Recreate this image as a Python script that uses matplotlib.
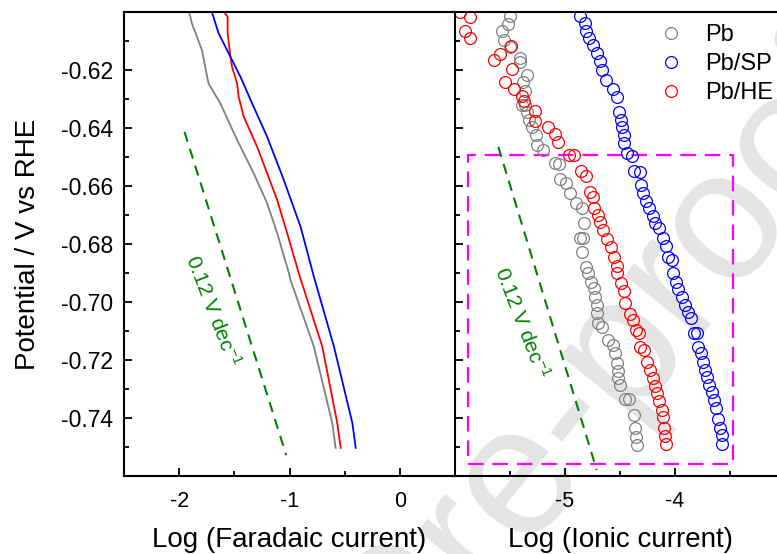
import matplotlib
matplotlib.use("Agg")
import matplotlib.pyplot as plt
from matplotlib.patches import Rectangle

plt.rcParams['font.family'] = ['Liberation Sans', 'DejaVu Sans']
plt.rcParams['mathtext.fontset'] = 'custom'
plt.rcParams['mathtext.rm'] = 'Liberation Sans'
plt.rcParams['mathtext.it'] = 'Liberation Sans:italic'

# Tafel plots, faradaic current (left)
far_pb_x = [-1.909, -1.885, -1.794, -1.764, -1.734, -1.627, -1.475, -1.325, -1.203,
            -1.112, -1.006, -0.991, -0.779, -0.612, -0.582]
far_pb_y = [-0.6001, -0.6039, -0.6131, -0.6189, -0.6246, -0.6315, -0.6441, -0.6556, -0.6659,
            -0.6762, -0.6900, -0.6924, -0.7154, -0.7418, -0.7503]
far_sp_x = [-1.703, -1.643, -1.536, -1.445, -1.325, -1.203, -1.052, -0.900, -0.779,
            -0.597, -0.430, -0.400]
far_sp_y = [-0.6001, -0.6073, -0.6154, -0.6223, -0.6327, -0.6430, -0.6579, -0.6740, -0.6913,
            -0.7154, -0.7418, -0.7503]
far_he_x = [-1.591, -1.561, -1.561, -1.536, -1.521, -1.475, -1.461, -1.415, -1.294,
            -1.203, -1.112, -1.021, -0.906, -0.703, -0.567, -0.536]
far_he_y = [-0.6001, -0.6016, -0.6073, -0.6154, -0.6189, -0.6246, -0.6292, -0.6361, -0.6464,
            -0.6556, -0.6648, -0.6763, -0.6913, -0.7154, -0.7418, -0.7503]

# ionic current (right)
ion_pb_x = [-5.500, -5.518, -5.573, -5.559, -5.500, -5.409, -5.405, -5.345, -5.382, -5.368,
            -5.394, -5.364, -5.345, -5.327, -5.300, -5.268, -5.255, -5.197, -5.091, -5.055,
            -5.045, -4.988, -4.955, -4.900, -4.848, -4.827, -4.868, -4.836, -4.841, -4.806,
            -4.788, -4.766, -4.736, -4.727, -4.712, -4.706, -4.697, -4.666, -4.606, -4.561,
            -4.541, -4.527, -4.520, -4.514, -4.500, -4.459, -4.415, -4.373, -4.368, -4.355,
            -4.345]
ion_pb_y = [-0.6014, -0.6041, -0.6067, -0.6098, -0.6119, -0.6159, -0.6171, -0.6217, -0.6243, -0.6274,
            -0.6321, -0.6321, -0.6345, -0.6374, -0.6397, -0.6423, -0.6459, -0.6476, -0.6522, -0.6524,
            -0.6576, -0.6591, -0.6625, -0.6660, -0.6677, -0.6729, -0.6779, -0.6780, -0.6829, -0.6878,
            -0.6901, -0.6930, -0.6953, -0.6982, -0.7010, -0.7037, -0.7073, -0.7085, -0.7131, -0.7148,
            -0.7177, -0.7209, -0.7238, -0.7262, -0.7286, -0.7334, -0.7334, -0.7388, -0.7433, -0.7464,
            -0.7493]
ion_sp_x = [-4.864, -4.818, -4.809, -4.782, -4.743, -4.712, -4.682, -4.666, -4.627, -4.566,
            -4.530, -4.506, -4.494, -4.485, -4.464, -4.464, -4.434, -4.394, -4.373, -4.318,
            -4.312, -4.288, -4.264, -4.234, -4.203, -4.179, -4.143, -4.106, -4.082, -4.061,
            -4.030, -4.015, -3.991, -3.970, -3.939, -3.909, -3.879, -3.857, -3.827, -3.797,
            -3.788, -3.766, -3.748, -3.727, -3.706, -3.688, -3.666, -3.645, -3.627, -3.606,
            -3.591, -3.575, -3.575]
ion_sp_y = [-0.6015, -0.6038, -0.6066, -0.6090, -0.6113, -0.6141, -0.6170, -0.6199, -0.6233, -0.6266,
            -0.6294, -0.6345, -0.6371, -0.6398, -0.6425, -0.6452, -0.6486, -0.6498, -0.6547, -0.6552,
            -0.6596, -0.6624, -0.6651, -0.6676, -0.6702, -0.6728, -0.6745, -0.6780, -0.6807, -0.6846,
            -0.6855, -0.6899, -0.6930, -0.6956, -0.6982, -0.7010, -0.7033, -0.7056, -0.7108, -0.7108,
            -0.7154, -0.7177, -0.7206, -0.7234, -0.7260, -0.7286, -0.7309, -0.7338, -0.7367, -0.7404,
            -0.7436, -0.7459, -0.7490]
ion_he_x = [-5.955, -5.864, -5.909, -5.864, -5.491, -5.595, -5.647, -5.482, -5.541, -5.462,
            -5.394, -5.375, -5.275, -5.273, -5.159, -5.094, -5.061, -4.966, -4.916, -4.856,
            -4.806, -4.773, -4.750, -4.732, -4.700, -4.682, -4.652, -4.614, -4.582, -4.553,
            -4.530, -4.527, -4.491, -4.466, -4.455, -4.409, -4.382, -4.355, -4.329, -4.315,
            -4.282, -4.257, -4.225, -4.203, -4.182, -4.166, -4.148, -4.121, -4.106, -4.100,
            -4.091, -4.082]
ion_he_y = [-0.5999, -0.6018, -0.6067, -0.6090, -0.6117, -0.6144, -0.6166, -0.6195, -0.6241, -0.6267,
            -0.6290, -0.6306, -0.6343, -0.6375, -0.6395, -0.6421, -0.6448, -0.6493, -0.6494, -0.6548,
            -0.6567, -0.6621, -0.6638, -0.6677, -0.6700, -0.6723, -0.6753, -0.6782, -0.6810, -0.6844,
            -0.6876, -0.6901, -0.6933, -0.6962, -0.7002, -0.7043, -0.7062, -0.7097, -0.7108, -0.7155,
            -0.7167, -0.7206, -0.7234, -0.7261, -0.7290, -0.7315, -0.7341, -0.7372, -0.7398, -0.7433,
            -0.7461, -0.7490]

# 0.12 V/dec reference slopes
ref_left_x = [-1.952, -1.030]
ref_left_y = [-0.6413, -0.7528]
ref_right_x = [-5.606, -4.712]
ref_right_y = [-0.6465, -0.7579]
slope_label = r'0.12 V dec$^{-1}$'

# highlighted region on the ionic plot
box_x = (-5.88, -3.473)
box_y = (-0.756, -0.6493)

labels = ['Pb', 'Pb/SP', 'Pb/HE']
colors = ['#808080', '#0000ff', '#ff0000']

fig = plt.figure(figsize=(7.77, 5.54), dpi=100)
axl = fig.add_axes([0.1596, 0.1408, 0.4260, 0.8375])
axr = fig.add_axes([0.5856, 0.1408, 0.4247, 0.8375])

fig.text(0.525, -0.125, 'Journal Pre-proof', rotation=51, fontsize=133,
         color='#e4e4e4', ha='center', va='center', zorder=-5)

for ax in (axl, axr):
    ax.set_facecolor('none')
    ax.set_ylim(-0.76, -0.60)
    for s in ax.spines.values():
        s.set_linewidth(1.5)
    ax.tick_params(which='both', direction='in', width=1.3,
                   top=False, right=False)
    ax.tick_params(which='major', length=6)
    ax.tick_params(which='minor', length=3.5)
    ax.tick_params(axis='x', labelsize=15.5, pad=11)
    ax.tick_params(axis='y', labelsize=16.5, pad=8)
    ax.set_yticks([-0.74, -0.72, -0.70, -0.68, -0.66, -0.64, -0.62])
    ax.set_yticks([-0.75, -0.73, -0.71, -0.69, -0.67, -0.65, -0.63, -0.61], minor=True)

axl.spines['right'].set_visible(False)
axl.set_xlim(-2.5, 0.5)
axl.set_xticks([-2, -1, 0])
axl.set_xticks([-1.5, -0.5], minor=True)
axl.set_yticklabels(['-0.74', '-0.72', '-0.70', '-0.68', '-0.66', '-0.64', '-0.62'])
axl.set_xticklabels(['-2', '-1', '0'])

axl.plot(far_pb_x, far_pb_y, color=colors[0], lw=1.3)
axl.plot(far_he_x, far_he_y, color=colors[2], lw=1.3)
axl.plot(far_sp_x, far_sp_y, color=colors[1], lw=1.3)
axl.plot(ref_left_x, ref_left_y, color='#008000', lw=1.5, ls=(0, (5, 3.5)))
axl.text(-1.70, -0.703, slope_label, color='#008000', fontsize=15,
         rotation=-69, ha='center', va='center')
axl.set_xlabel('Log (Faradaic current)', fontsize=20, labelpad=10.5)
axl.set_ylabel('Potential / V vs RHE', fontsize=20, labelpad=14)

axr.set_xlim(-6, -3)
axr.set_xticks([-5, -4])
axr.set_xticks([-5.5, -4.5, -3.5], minor=True)
axr.set_xticklabels(['-5', '-4'])
axr.set_yticklabels([])

axr.add_patch(Rectangle((box_x[0], box_y[0]), box_x[1] - box_x[0], box_y[1] - box_y[0],
                        fill=False, edgecolor='#ff00ff', lw=1.6, ls=(0, (7, 4))))
axr.plot(ref_right_x, ref_right_y, color='#008000', lw=1.5, ls=(0, (5, 3.5)))
axr.text(-5.39, -0.707, slope_label, color='#008000', fontsize=15,
         rotation=-69, ha='center', va='center')

for xs, ys, c, lab in [(ion_pb_x, ion_pb_y, colors[0], labels[0]),
                       (ion_sp_x, ion_sp_y, colors[1], labels[1]),
                       (ion_he_x, ion_he_y, colors[2], labels[2])]:
    axr.plot(xs, ys, ls='none', marker='o', ms=8.5, mfc='none', mec=c, mew=0.9,
             label=lab)

axr.legend(loc='upper left', bbox_to_anchor=(0.575, 1.0), frameon=False, fontsize=17,
           handletextpad=0.85, labelspacing=0.3, handlelength=1.2, borderaxespad=0.1)
axr.set_xlabel('Log (Ionic current)', fontsize=20, labelpad=10.5)

fig.savefig('out.png', dpi=100)
